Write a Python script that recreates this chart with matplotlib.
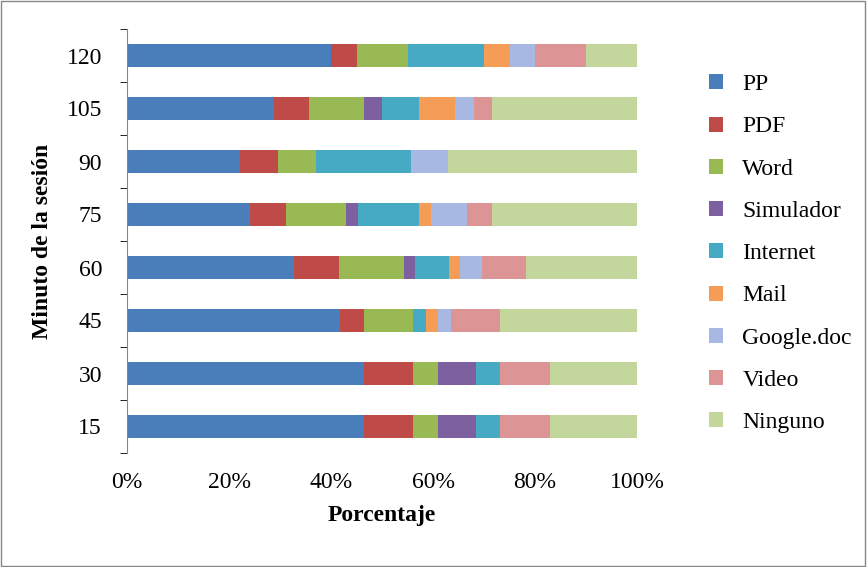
import matplotlib.pyplot as plt
import numpy as np

minutos = ['15', '30', '45', '60', '75', '90', '105', '120']
series = ['PP', 'PDF', 'Word', 'Simulador', 'Internet', 'Mail', 'Google.doc', 'Video', 'Ninguno']
colores = ['#4a7ebb', '#be4b48', '#98b954', '#7d60a0', '#46aac5', '#f59d56', '#a7b9e3', '#dc9594', '#c3d69b']

# cumulative right edge of each segment (%), rows in order of minutos
pp =        [46.5, 46.5, 41.8, 32.7, 24.1, 22.2, 28.8, 40.0]
pdf =       [56.1, 56.1, 46.5, 41.6, 31.2, 29.6, 35.7, 45.1]
word =      [61.0, 61.0, 56.1, 54.3, 42.9, 37.0, 46.5, 55.0]
simulador = [68.4, 68.4, 56.1, 56.5, 45.3, 37.0, 50.0, 55.0]
internet =  [73.1, 73.1, 58.6, 63.1, 57.3, 55.7, 57.3, 70.0]
mail =      [73.1, 73.1, 61.0, 65.3, 59.6, 55.7, 64.3, 75.0]
google =    [73.1, 73.1, 63.5, 69.6, 66.7, 63.0, 68.0, 80.0]
video =     [82.9, 82.9, 73.1, 78.2, 71.6, 63.0, 71.6, 90.0]
ninguno =   [100] * 8

acum = np.array([pp, pdf, word, simulador, internet, mail, google, video, ninguno])

plt.rcParams['font.family'] = 'Liberation Serif'
fig = plt.figure(figsize=(8.67, 5.67), dpi=100)
ax = fig.add_axes([127/867, 114/567, 510/867, 424/567])

y = np.arange(len(minutos))
izq = np.zeros(len(minutos))
for i, nombre in enumerate(series):
    ancho = acum[i] - izq
    ax.barh(y, ancho, left=izq, height=0.45, color=colores[i], label=nombre)
    izq = acum[i].copy()

ax.set_xlim(0, 100)
ax.set_ylim(-0.5, len(minutos) - 0.5)
ax.set_xticks(np.arange(0, 101, 20))
ax.set_xticklabels([f'{v}%' for v in range(0, 101, 20)], fontsize=17)
ax.set_yticks(y)
ax.set_yticklabels(minutos, fontsize=17)
ax.set_yticks(np.arange(-0.5, len(minutos)), minor=True)
ax.tick_params(axis='y', which='major', length=0, pad=18)
ax.tick_params(axis='y', which='minor', length=5, direction='out')
ax.tick_params(axis='x', length=0, pad=14)
for s in ['top', 'right', 'bottom']:
    ax.spines[s].set_visible(False)
ax.spines['left'].set_color('#868686')
ax.set_xlabel('Porcentaje', fontsize=17, fontweight='bold', labelpad=8)
ax.set_ylabel('Minuto de la sesión', fontsize=17, fontweight='bold', labelpad=10)

ax.legend(loc='center left', bbox_to_anchor=(1.1, 0.47), frameon=False,
          fontsize=17, handlelength=0.6, handleheight=0.6, labelspacing=0.9,
          handletextpad=0.8)

fig.patches.append(plt.Rectangle((0.001, 0.001), 0.997, 0.997, transform=fig.transFigure,
                                 fill=False, edgecolor='#868686', linewidth=1))
fig.savefig('out.png')
